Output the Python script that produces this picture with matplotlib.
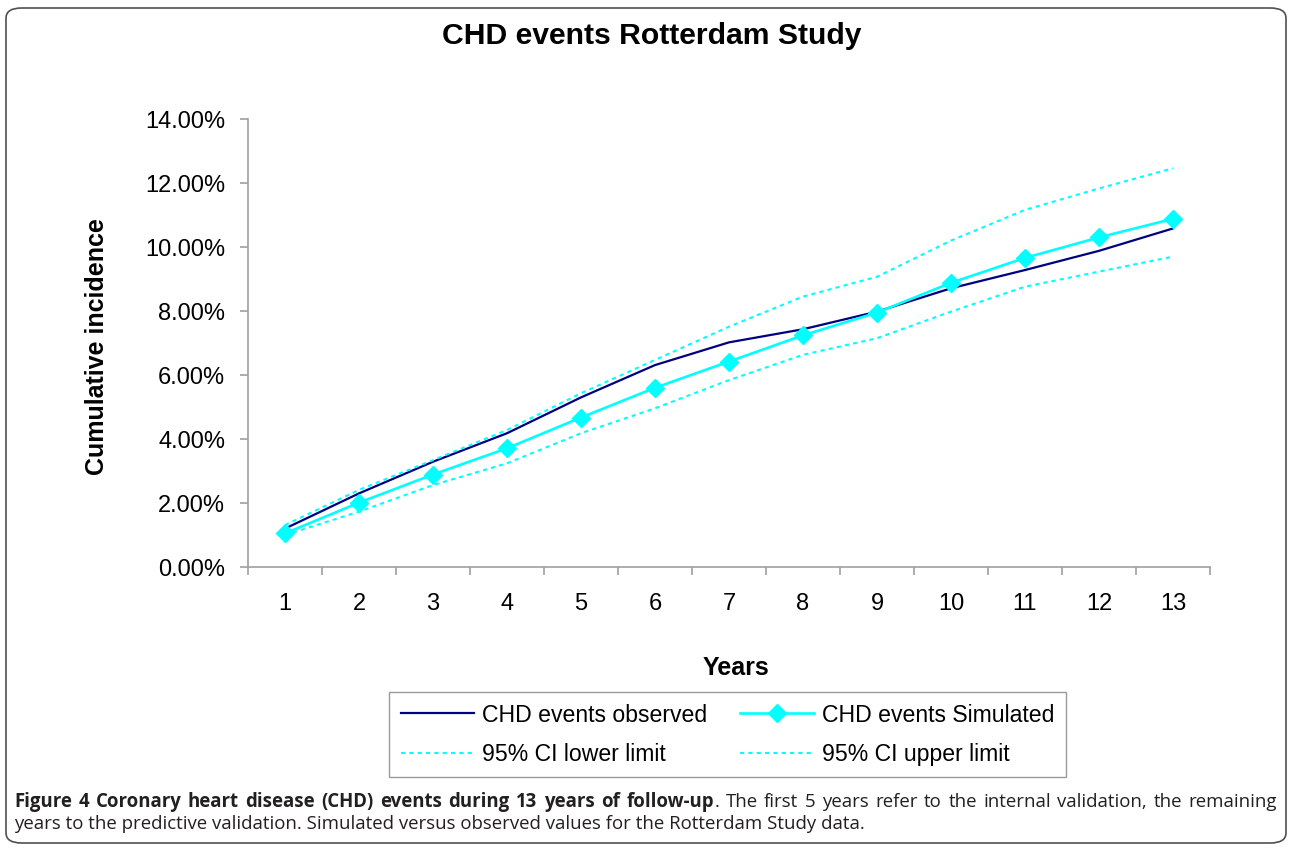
import matplotlib
matplotlib.use('Agg')
import matplotlib.pyplot as plt
from matplotlib.patches import FancyBboxPatch
import numpy as np

# values (cumulative incidence in %)
years = [1, 2, 3, 4, 5, 6, 7, 8, 9, 10, 11, 12, 13]
observed = [1.2, 2.3, 3.29, 4.18, 5.3, 6.31, 7.02, 7.43, 7.98, 8.71, 9.28, 9.88, 10.58]
simulated = [1.05, 2.01, 2.89, 3.71, 4.67, 5.6, 6.42, 7.24, 7.95, 8.88, 9.66, 10.3, 10.88]
ci_lower = [1.0, 1.73, 2.56, 3.24, 4.18, 4.96, 5.84, 6.63, 7.15, 7.98, 8.76, 9.23, 9.7]
ci_upper = [1.31, 2.41, 3.34, 4.28, 5.43, 6.47, 7.51, 8.45, 9.07, 10.2, 11.16, 11.83, 12.46]
y_ticks = [0, 2, 4, 6, 8, 10, 12, 14]

title = 'CHD events Rotterdam Study'
caption_bold = 'Figure 4 Coronary heart disease (CHD) events during 13 years of follow-up'
caption_rest = '. The first 5 years refer to the internal validation, the remaining'
caption_line2 = 'years to the predictive validation. Simulated versus observed values for the Rotterdam Study data.'

plt.rcParams['font.family'] = ['Liberation Sans', 'DejaVu Sans']

W, H = 1292, 848
fig = plt.figure(figsize=(W / 100, H / 100), dpi=100)
ax = fig.add_axes([248 / W, 1 - 567 / H, (1210 - 248) / W, (567 - 119) / H])

navy = '#000080'
cyan = '#00FFFF'
axis_grey = '#A0A0A0'

x = np.array(years)
l_obs, = ax.plot(x, observed, color=navy, lw=1.6, label='CHD events observed')
l_sim, = ax.plot(x, simulated, color=cyan, lw=1.9, marker='D', ms=9,
                 markeredgecolor=cyan, label='CHD events Simulated')
l_low, = ax.plot(x, ci_lower, color=cyan, lw=1.5, linestyle=(0, (2, 2)),
                 label='95% CI lower limit')
l_up, = ax.plot(x, ci_upper, color=cyan, lw=1.5, linestyle=(0, (2, 2)),
                label='95% CI upper limit')

ax.set_xlim(0.5, 13.5)
ax.set_ylim(0, 14)
ax.set_yticks(y_ticks)
ax.set_yticklabels(['{:.2f}%'.format(v) for v in y_ticks])
ax.set_xticks(years)
ax.set_xticklabels([str(y) for y in years])
ax.set_xticks(np.arange(0.5, 14, 1), minor=True)

for s in ['top', 'right']:
    ax.spines[s].set_visible(False)
for s in ['left', 'bottom']:
    ax.spines[s].set_color(axis_grey)
    ax.spines[s].set_linewidth(1.2)

ax.tick_params(axis='y', direction='out', length=5.5, width=1.2, color=axis_grey,
               pad=11, labelsize=17)
ax.tick_params(axis='x', which='major', length=0, pad=19, labelsize=17)
ax.tick_params(axis='x', which='minor', direction='out', length=6, width=1.2,
               color=axis_grey)

fig.text(652 / W, 1 - 36 / H, title, ha='center', va='center',
         fontsize=21.7, fontweight='bold')
fig.text(97 / W, 1 - 347 / H, 'Cumulative incidence', rotation=90,
         ha='center', va='center', fontsize=18, fontweight='bold')
fig.text(736 / W, 1 - 668 / H, 'Years', ha='center', va='center',
         fontsize=18, fontweight='bold')

leg = fig.legend(handles=[l_obs, l_low, l_sim, l_up], ncol=2,
                 loc='upper left', bbox_to_anchor=(389 / W, 1 - 692 / H),
                 fontsize=16.6, frameon=True, fancybox=False, numpoints=1,
                 handlelength=3.2, handletextpad=0.35, columnspacing=1.4,
                 borderpad=0.5, labelspacing=0.7, borderaxespad=0)
leg.get_frame().set_edgecolor('#808080')
leg.get_frame().set_linewidth(1.0)

# caption below the chart, first line justified to the full width
cap_font = ['Open Sans', 'DejaVu Sans']
cap_size = 13.4
cap_col = '#231F20'
tokens = [(w, 'bold') for w in caption_bold.split()] + \
         [(w, 'normal') for w in caption_rest.split()]
renderer = fig.canvas.get_renderer()
items = []
for w, wt in tokens:
    t = fig.text(0, 0, w, ha='left', va='baseline', fontsize=cap_size,
                 fontweight=wt, family=cap_font, color=cap_col)
    items.append((t, t.get_window_extent(renderer).width, w))
x_left, x_right = 14, 1277
n_gaps = sum(1 for t, wd, w in items[1:] if w != '.')
gap = (x_right - x_left - sum(wd for t, wd, w in items)) / n_gaps
xpos = x_left
for i, (t, wd, w) in enumerate(items):
    if i > 0 and w != '.':
        xpos += gap
    t.set_position((xpos / W, 1 - 807 / H))
    xpos += wd
fig.text(14 / W, 1 - 829 / H, caption_line2, ha='left', va='baseline',
         fontsize=cap_size, family=cap_font, color=cap_col)

# rounded frame around the whole figure
frame = FancyBboxPatch((6 / W, 5 / H), (W - 12) / W, (H - 13) / H,
                       boxstyle='round,pad=0,rounding_size=0.012',
                       transform=fig.transFigure, fill=False,
                       edgecolor='#505050', linewidth=1.2)
fig.patches.append(frame)

fig.savefig('out.png', dpi=100)
